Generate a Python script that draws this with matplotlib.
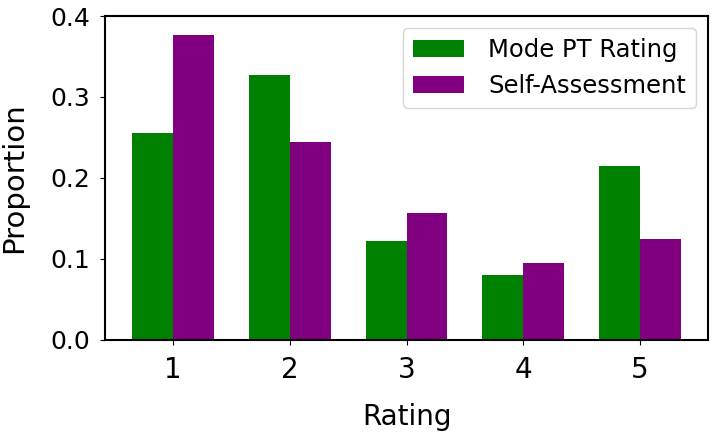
import matplotlib
matplotlib.use("Agg")
import matplotlib.pyplot as plt
import numpy as np

ratings = [1, 2, 3, 4, 5]
mode_pt = [0.255, 0.327, 0.122, 0.080, 0.215]
self_assess = [0.376, 0.245, 0.157, 0.095, 0.125]
series_labels = ["Mode PT Rating", "Self-Assessment"]

fig = plt.figure(figsize=(7.12, 4.36), dpi=100)
ax = fig.add_axes([0.1475, 0.2202, 0.8469, 0.7431])
x = np.array(ratings)
w = 0.35
ax.bar(x - w/2, mode_pt, w, color="green", label=series_labels[0])
ax.bar(x + w/2, self_assess, w, color="purple", label=series_labels[1])
ax.set_xticks(x)
ax.set_xticklabels([str(r) for r in ratings])
ax.set_ylim(0, 0.4)
ax.set_yticks([0.0, 0.1, 0.2, 0.3, 0.4])
ax.tick_params(axis="y", labelsize=18, pad=7)
ax.tick_params(axis="x", labelsize=20, pad=8)
ax.set_xlabel("Rating", fontsize=20, labelpad=14)
ax.set_ylabel("Proportion", fontsize=21, labelpad=16)
for s in ax.spines.values():
    s.set_linewidth(1.5)
ax.legend(fontsize=17.5, loc="upper right", handlelength=2.1, handletextpad=1.0)
fig.savefig("out.png", dpi=100)
